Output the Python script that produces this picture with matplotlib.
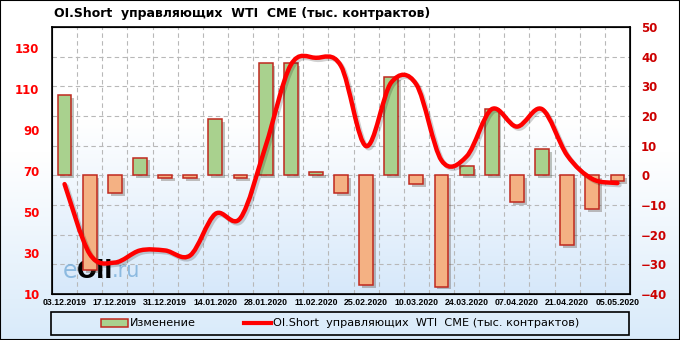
import numpy as np
import matplotlib
matplotlib.use('Agg')
import matplotlib.pyplot as plt
from matplotlib.path import Path
from matplotlib.patches import PathPatch, Rectangle, Patch
from matplotlib.lines import Line2D
import matplotlib.patheffects as pe

dates = ['03.12.2019', '10.12.2019', '17.12.2019', '24.12.2019', '31.12.2019',
         '07.01.2020', '14.01.2020', '21.01.2020', '28.01.2020', '04.02.2020',
         '11.02.2020', '18.02.2020', '25.02.2020', '03.03.2020', '10.03.2020',
         '17.03.2020', '24.03.2020', '31.03.2020', '07.04.2020', '14.04.2020',
         '21.04.2020', '28.04.2020', '05.05.2020']
# weekly change (right axis)
change = [27, -32, -6, 6, -1, -1, 19, -1, 37.7, 37.7, 1, -6, -37, 33, -3,
          -37.5, 3.2, 22.2, -8.9, 8.8, -23.5, -11.5, -2]
# OI.Short (left axis)
oi_short = [63.5, 29.5, 25.3, 31.2, 31.2, 28.8, 49, 47, 82, 121.5, 125, 121,
            82, 113, 112, 75, 77, 100, 91.5, 100, 77.5, 66, 64]

x = np.arange(len(dates))

fig = plt.figure(figsize=(6.8, 3.4), dpi=100)

# figure background gradient
bg = fig.add_axes([0, 0, 1, 1], zorder=-10)
g = np.linspace(0, 1, 256)
g = np.clip((g - 0.45) / 0.55, 0, 1)[:, None]
c_top = np.array([1.0, 1.0, 1.0])
c_bot = np.array([0.85, 0.92, 0.98])
bg.imshow(c_top + g[..., None] * (c_bot - c_top), aspect='auto',
          extent=[0, 1, 0, 1], origin='upper')
bg.set_axis_off()
fig.patches.append(Rectangle((0, 0), 1, 1, transform=fig.transFigure,
                             fill=False, edgecolor='black', lw=1.5))

ax = fig.add_axes([52 / 680, 1 - 294 / 340, 578 / 680, 267 / 340])
ax.patch.set_visible(False)
g2 = np.clip((np.linspace(0, 1, 256) - 0.35) / 0.65, 0, 1)[:, None]
c_bot2 = np.array([0.84, 0.91, 0.98])
ax.imshow(c_top + g2[..., None] * (c_bot2 - c_top), aspect='auto',
          extent=[0, 1, 0, 1], origin='upper', transform=ax.transAxes, zorder=0)

# bars on the primary axis (right ticks)
colors = ['#a9d18e' if v >= 0 else '#f4b183' for v in change]
bars = ax.bar(x, change, width=0.55, color=colors, edgecolor='#c0281e',
              linewidth=1.1, zorder=3)
for b in bars:
    b.set_path_effects([pe.SimplePatchShadow(offset=(2, -2), alpha=0.3),
                        pe.Normal()])
ax.set_ylim(-40, 50)
ax.set_yticks(np.arange(-40, 51, 10))
ax.set_xlim(-0.5, len(dates) - 0.5)
ax.set_xticks(x[::2])
ax.set_xticklabels(dates[::2], fontsize=6.3, fontweight='bold',
                   family='Liberation Sans')
ax.tick_params(axis='x', length=0, pad=3)
ax.set_xticks(x[:-1] + 0.5, minor=True)
ax.tick_params(axis='x', which='minor', length=0)
ax.grid(True, axis='y', ls=(0, (4, 3)), color='#b8b8b8', lw=0.8, zorder=1)
ax.grid(True, axis='x', which='minor', ls=(0, (4, 3)), color='#b8b8b8',
        lw=0.8, zorder=1)
for s in ax.spines.values():
    s.set_linewidth(1.2)

# line on twin axis (left ticks)
ax2 = ax.twinx()
ax2.set_ylim(10, 140)
ax2.set_yticks(np.arange(10, 131, 20))
ax2.yaxis.tick_left()
ax2.tick_params(axis='y', length=0, pad=9, labelcolor='#ff0000',
                labelsize=8.5)
for t in ax2.get_yticklabels():
    t.set_fontweight('bold')

ax.yaxis.tick_right()
ax.tick_params(axis='y', length=0, pad=8, labelcolor='#cc0000',
               labelsize=8.5)
for t in ax.get_yticklabels():
    t.set_fontweight('bold')

# smooth curve through the points (Catmull-Rom as Bezier segments)
pts = np.column_stack([x, oi_short]).astype(float)
ext = np.vstack([pts[0], pts, pts[-1]])
verts = [tuple(pts[0])]
codes = [Path.MOVETO]
for i in range(len(pts) - 1):
    p0, p1, p2, p3 = ext[i], ext[i + 1], ext[i + 2], ext[i + 3]
    c1 = p1 + (p2 - p0) / 6
    c2 = p2 - (p3 - p1) / 6
    verts += [tuple(c1), tuple(c2), tuple(p2)]
    codes += [Path.CURVE4] * 3
curve = PathPatch(Path(verts, codes), fill=False, edgecolor='#ff0000',
                  lw=3.2, transform=ax2.transData, zorder=5,
                  capstyle='round', joinstyle='round')
curve.set_path_effects([pe.SimpleLineShadow(offset=(1.5, -1.5), alpha=0.18),
                        pe.Normal()])
ax2.add_patch(curve)

# watermark
ax.text(0.018, 0.085, 'e', transform=ax.transAxes, fontsize=17,
        color='#7fb2dc', alpha=0.85, zorder=2, va='center')
ax.text(0.043, 0.085, 'Oil', transform=ax.transAxes, fontsize=17,
        fontweight='bold', color='black', zorder=2, va='center')
ax.text(0.104, 0.085, '.ru', transform=ax.transAxes, fontsize=15,
        color='#7fb2dc', alpha=0.85, zorder=2, va='center')

fig.text(54 / 680, 1 - 13 / 340, 'OI.Short  управляющих  WTI  CME (тыс. контрактов)',
         fontsize=9, fontweight='bold', va='center', ha='left')

# legend with a full-width frame
fig.patches.append(Rectangle((51 / 680, 5 / 340), 578 / 680, 23 / 340,
                             transform=fig.transFigure, fill=False,
                             edgecolor='black', lw=1.2))
handles = [Patch(facecolor='#a9d18e', edgecolor='#c0281e', lw=1.1),
           Line2D([], [], color='#ff0000', lw=3)]
fig.legend(handles, ['Изменение', 'OI.Short  управляющих  WTI  CME (тыс. контрактов)'],
           loc='center', bbox_to_anchor=(340 / 680, 16.5 / 340), ncol=2,
           frameon=False, fontsize=8.1, columnspacing=4.2, handlelength=2.4,
           handletextpad=0.2)

fig.savefig('out.png', dpi=100)
